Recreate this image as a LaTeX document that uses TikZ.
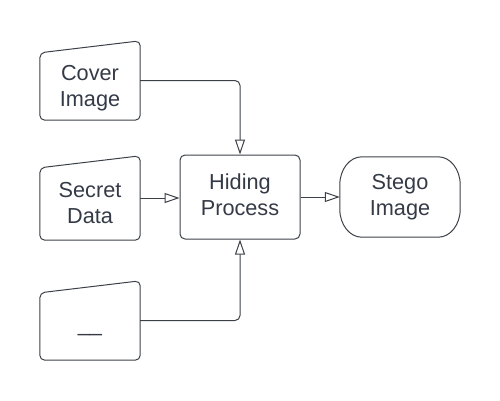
\documentclass[tikz,border=0pt]{standalone}
\usepackage{fontspec}
\setmainfont{Liberation Sans}
\usetikzlibrary{arrows.meta,positioning}
\definecolor{linegray}{RGB}{60,64,72}
\definecolor{textgray}{RGB}{52,58,70}

\begin{document}
\begin{tikzpicture}[x = 1pt, y = -1pt,
  txt/.style = {text = textgray, align = center, text depth = 5pt, inner sep = 0pt, font = \fontsize{21.7}{26}\selectfont},
  inbox/.style = {shape = rectangle, inner sep = 0pt, minimum width = 100pt},
  outline/.style = {draw = linegray, line width = 1pt, rounded corners = 5pt},
  arr/.style = {draw = linegray, line width = 1pt, rounded corners = 5pt, -{Triangle[open, length = 15pt, width = 10pt]}}]
\useasboundingbox (0,0) rectangle (500,400);

% manual inputs
\node[inbox, minimum height = 79pt] (1) at (90,80.5) {};
\node[txt] at ([yshift = -7.5pt]1.center) {Cover\\Image};
\draw[outline] (1.south) -- (1.south west) -- ([yshift = -12pt]1.north west) -- (1.north east) -- (1.south east) -- cycle;

\node[inbox, minimum height = 84pt] (2) at (90,198) {};
\node[txt] at ([yshift = -7.5pt]2.center) {Secret\\Data};
\draw[outline] (2.south) -- (2.south west) -- ([yshift = -12pt]2.north west) -- (2.north east) -- (2.south east) -- cycle;

\node[inbox, minimum height = 79pt] (3) at (90,320.5) {};
\node[txt, anchor = base] at ([yshift = -11pt]3.center) {\_\_};
\draw[outline] (3.south) -- (3.south west) -- ([yshift = -12pt]3.north west) -- (3.north east) -- (3.south east) -- cycle;

% process and output
\node[txt, outline, minimum width = 120pt, minimum height = 84pt] (4) at (240,197) {Hiding\\Process};
\node[txt, minimum width = 120pt, minimum height = 80pt] (5) at (400,197) {Stego\\Image};
\draw[draw = linegray, line width = 1pt] ([xshift = 22pt]5.north west) -- ([xshift = -22pt]5.north east)
  arc[start angle = 90, end angle = 0, x radius = 22pt, y radius = 28pt] -- ([yshift = 28pt]5.south east)
  arc[start angle = 0, end angle = -90, x radius = 22pt, y radius = 28pt] -- ([xshift = 22pt]5.south west)
  arc[start angle = 270, end angle = 180, x radius = 22pt, y radius = 28pt] -- ([yshift = -28pt]5.north west)
  arc[start angle = 180, end angle = 90, x radius = 22pt, y radius = 28pt] -- cycle;

\draw[arr] (1.east) -| (4.north);
\draw[arr] (2.east) -- (2.east -| 4.west);
\draw[arr] (3.east) -| (4.south);
\draw[arr] (4.east) -- (5.west);
\end{tikzpicture}
\end{document}
